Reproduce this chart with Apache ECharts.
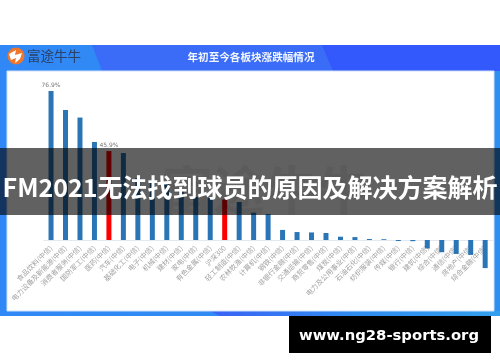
<!DOCTYPE html>
<html><head><meta charset="utf-8">
<script src="https://cdn.jsdelivr.net/npm/echarts@6/dist/echarts.min.js"></script>
<style>
html,body{margin:0;padding:0;background:#fff;overflow:hidden}
#c,#o{position:absolute;left:0;top:0;width:500px;height:362px}
#c{filter:blur(0.55px)}
</style></head><body>
<div id="c"></div><div id="o"></div>
<script>
const categories=['食品饮料(中信)','电力设备及新能源(中信)','消费者服务(中信)','国防军工(中信)','医药(中信)','汽车(中信)','基础化工(中信)','电子(中信)','机械(中信)','建材(中信)','家电(中信)','有色金属(中信)','沪深300','轻工制造(中信)','农林牧渔(中信)','计算机(中信)','钢铁(中信)','非银行金融(中信)','交通运输(中信)','商贸零售(中信)','煤炭(中信)','电力及公用事业(中信)','石油石化(中信)','纺织服装(中信)','传媒(中信)','银行(中信)','建筑(中信)','综合(中信)','通信(中信)','房地产(中信)','综合金融(中信)'];
const values=[76.9,67.1,63.2,50.6,45.9,44.9,32,31,29.4,25.8,22.2,21.7,20.9,19.6,14.1,13.4,5.2,4.1,3.9,3.6,1.7,1.5,0.5,0.4,-0.5,-0.6,-4.4,-6.3,-7.2,-7.7,-14.5];
const highlighted=['医药(中信)','沪深300'];
const labelled=['食品饮料(中信)','医药(中信)'];
const headerTitle='年初至今各板块涨跌幅情况';
const brandName='富途牛牛';
const pageTitle='FM2021无法找到球员的原因及解决方案解析';
const siteUrl='www.ng28-sports.org';

const chart=echarts.init(document.getElementById('c'),null,{renderer:'canvas'});
chart.setOption({
  animation:false,
  backgroundColor:'transparent',
  grid:{left:43.8,width:448.6,top:85,height:193.75,containLabel:false},
  xAxis:{type:'category',data:categories,position:'bottom',
    axisLine:{onZero:true,lineStyle:{color:'#e4e8f0',width:1}},axisTick:{show:false},
    axisLabel:{interval:0,rotate:45,fontSize:7,color:'#a2a2a2',margin:-32,
      fontFamily:'"Noto Sans CJK SC","Noto Sans",sans-serif'}},
  yAxis:{type:'value',min:-20,max:80,interval:20,show:false,splitLine:{show:false}},
  series:[{type:'bar',barWidth:5,z:3,
    data:categories.map((c,i)=>({value:values[i],
      itemStyle:{color:highlighted.includes(c)?'#ff0000':'#2a75b6'},
      label:{show:labelled.includes(c),position:'top',distance:3,fontSize:6,color:'#777',
        fontFamily:'"DejaVu Sans",sans-serif',formatter:p=>p.value.toFixed(1)+'%'}}))}],
  graphic:[
    {type:'rect',z:-10,silent:true,shape:{x:0,y:45,width:500,height:271},
      style:{fill:new echarts.graphic.LinearGradient(0,0,1,0,[{offset:0,color:'#3088f6'},{offset:1,color:'#2f8ff0'}])}},
    {type:'polygon',z:-9,silent:true,shape:{points:[[92,45],[500,45],[500,71],[102,71]]},style:{fill:'#3a6cf8'}},
    {type:'polygon',z:-8,silent:true,shape:{points:[[322,45],[500,45],[500,71],[333,71]]},style:{fill:'#3358fb'}},
    {type:'polygon',z:-9,silent:true,shape:{points:[[210,311],[500,311],[500,316],[220,316]]},
      style:{fill:new echarts.graphic.LinearGradient(0,0,1,0,[{offset:0,color:'#3a62f5'},{offset:0.5,color:'#2f8cf0'},{offset:1,color:'#33a0ee'}])}},
    {type:'rect',z:-7,silent:true,shape:{x:7,y:71,width:487,height:240},style:{fill:'#fff',stroke:'#cfe0fb',lineWidth:1}},
    {type:'circle',z:-6,silent:true,shape:{cx:16,cy:56,r:8.5},style:{fill:'#f0762b'}},
    {type:'polygon',z:-5,silent:true,shape:{points:[[9,54],[16,50],[15,55],[22,53],[20,59],[15,63],[16,58],[11,60]]},style:{fill:'#fff'}},
    {type:'text',z:-5,silent:true,style:{x:27,y:56,text:brandName,fill:'#2b4168',font:'13.5px "Noto Sans CJK SC"',textVerticalAlign:'middle'}},
    {type:'text',z:-5,silent:true,style:{x:251,y:57,text:headerTitle,fill:'#f2f6ff',font:'bold 10.6px "Noto Sans CJK SC"',textAlign:'center',textVerticalAlign:'middle'}}
  ]
});

const over=echarts.init(document.getElementById('o'));
over.setOption({
  animation:false,backgroundColor:'transparent',
  graphic:[
    {type:'text',z:1,silent:true,style:{x:265,y:190,text:brandName,fill:'rgba(70,70,70,0.08)',font:'bold 52px "Noto Sans CJK SC"',textAlign:'center',textVerticalAlign:'middle'}},
    {type:'rect',z:2,silent:true,shape:{x:0,y:148,width:500,height:67},style:{fill:'rgba(0,0,0,0.62)'}},
    {type:'text',z:3,silent:true,style:{x:250,y:187,text:pageTitle,fill:'#fff',font:'bold 25px "Noto Sans CJK SC"',textAlign:'center',textVerticalAlign:'middle'}},
    {type:'rect',z:2,silent:true,shape:{x:289,y:316,width:202,height:37},style:{fill:'#000'}},
    {type:'text',z:3,silent:true,style:{x:389,y:336,text:siteUrl,fill:'#fff',font:'bold 14.8px "DejaVu Sans"',textAlign:'center',textVerticalAlign:'middle'}}
  ]
});
</script>
</body></html>
